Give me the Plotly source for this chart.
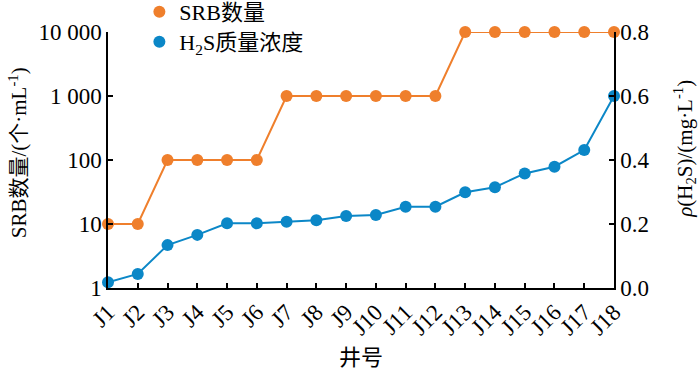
import plotly.graph_objects as go

wells = ["J1","J2","J3","J4","J5","J6","J7","J8","J9","J10","J11","J12","J13","J14","J15","J16","J17","J18"]
srb_counts = [10,10,100,100,100,100,1000,1000,1000,1000,1000,1000,10000,10000,10000,10000,10000,10000]
h2s_conc = [0.018,0.044,0.134,0.166,0.202,0.202,0.207,0.212,0.225,0.228,0.254,0.254,0.299,0.315,0.358,0.379,0.431,0.600]
left_ticks = [1,10,100,1000,10000]
left_ticktext = ["1","10","100","1 000","10 000"]

ORANGE = "#EF7F2C"
BLUE = "#0B87C7"
FONT = "Liberation Serif, Noto Sans CJK SC"

fig = go.Figure()
fig.add_trace(go.Scatter(x=wells, y=srb_counts, mode="lines+markers", yaxis="y",
                         line=dict(color=ORANGE, width=2), marker=dict(color=ORANGE, size=12),
                         cliponaxis=False, showlegend=False))
fig.add_trace(go.Scatter(x=wells, y=h2s_conc, mode="lines+markers", yaxis="y2",
                         line=dict(color=BLUE, width=2), marker=dict(color=BLUE, size=12),
                         cliponaxis=False, showlegend=False))
# legend entries (markers only)
fig.add_trace(go.Scatter(x=[None], y=[None], mode="markers", marker=dict(color=ORANGE, size=12),
                         name="SRB数量", legend="legend"))
fig.add_trace(go.Scatter(x=[None], y=[None], mode="markers", marker=dict(color=BLUE, size=12),
                         name="H<sub>2</sub>S质量浓度", legend="legend2"))

axis_common = dict(showline=True, linecolor="black", linewidth=1.5, ticks="inside",
                   tickcolor="black", tickwidth=1.5, ticklen=5, showgrid=False, zeroline=False,
                   tickfont=dict(family=FONT, size=23, color="black"))

legend_common = dict(xanchor="left", yanchor="middle", bgcolor="rgba(0,0,0,0)",
                     font=dict(family=FONT, size=22, color="black"), itemwidth=30)

fig.update_layout(
    width=700, height=385,
    margin=dict(l=108, r=86, t=32, b=97, autoexpand=False),
    paper_bgcolor="white", plot_bgcolor="white",
    font=dict(family=FONT, color="black"),
    xaxis=dict(**axis_common, type="category", range=[0, 17], tickangle=-45),
    yaxis=dict(**axis_common, type="log", range=[0, 4], tickvals=left_ticks, ticktext=left_ticktext),
    yaxis2=dict(**axis_common, overlaying="y", side="right", range=[0, 0.8], dtick=0.2,
                tickformat=".1f"),
    legend=dict(**legend_common, x=0.062, y=1.078),
    legend2=dict(**legend_common, x=0.062, y=0.961),
    annotations=[
        dict(text="井号", xref="paper", yref="paper", x=0.5, y=-0.27, showarrow=False,
             xanchor="center", yanchor="middle", font=dict(family=FONT, size=22)),
        dict(text="SRB数量/(个·mL<sup>-1</sup>)", xref="paper", yref="paper", x=-0.178, y=0.53,
             showarrow=False, textangle=-90, xanchor="center", yanchor="middle",
             font=dict(family=FONT, size=21)),
        dict(text="<i>ρ</i>(H<sub>2</sub>S)/(mg·L<sup>-1</sup>)", xref="paper", yref="paper",
             x=1.139, y=0.545, showarrow=False, textangle=-90, xanchor="center", yanchor="middle",
             font=dict(family=FONT, size=21)),
    ],
)

fig.write_html("out.html", config={"displayModeBar": False},
               post_script="document.body.style.margin='0';")
